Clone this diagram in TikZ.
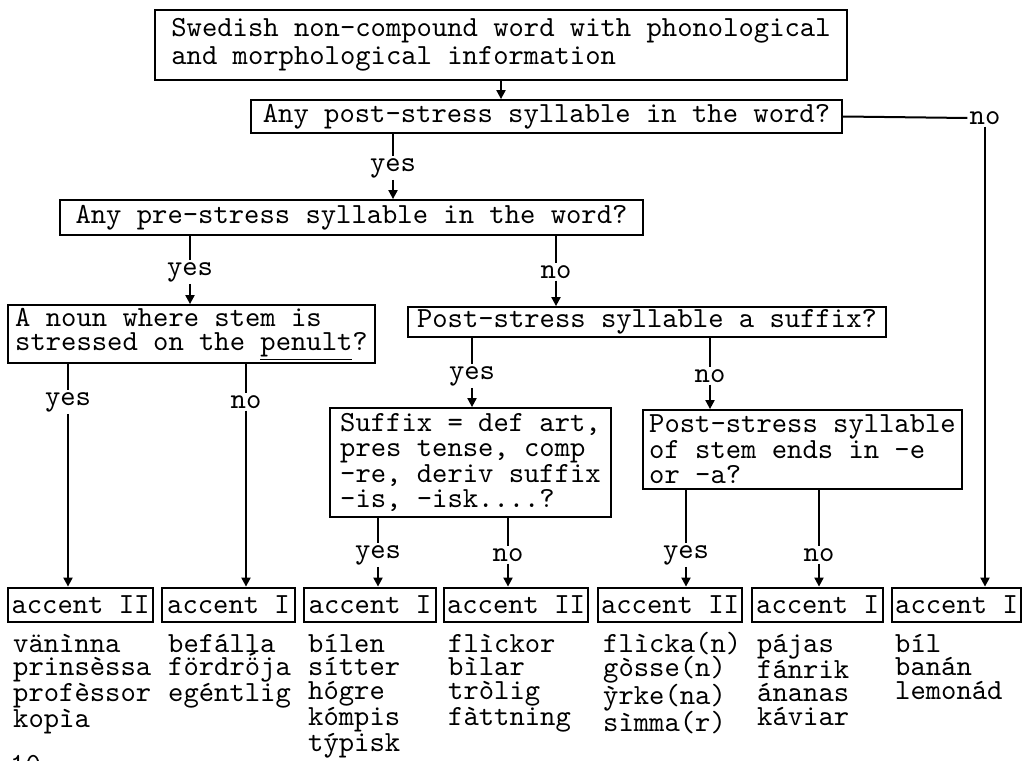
\documentclass[tikz,border=0pt]{standalone}
\usepackage{fontspec}
\setmainfont{lmmono10-regular}[Extension=.otf]
\usetikzlibrary{arrows.meta}
\newcommand{\ostack}{\rlap{ö}\raisebox{0.17em}{\char"00B4}}
\newcommand{\topstrut}{\rule{0pt}{20pt}}
\begin{document}
\begin{tikzpicture}[x=1pt,y=-1pt,
  font=\fontsize{29.2}{25.5}\selectfont,
  box/.style={draw, line width=1.8pt, align=left, inner sep=0pt},
  acc/.style={draw, line width=2.8pt, inner sep=0pt, minimum height=34pt},
  lab/.style={inner sep=2pt},
  ln/.style={line width=2pt},
  arr/.style={line width=2pt, -{Triangle[length=9pt,width=9pt]}},
  words/.style={anchor=north west, align=left, inner sep=0pt, font=\fontsize{29.2}{23.6}\selectfont}]
\useasboundingbox (0,0) rectangle (1027,760);
% decision boxes
\node[box, minimum width=692pt, minimum height=70pt, font=\fontsize{29.2}{28}\selectfont] (b1) at (501,45)
  {Swedish non-compound word with phonological\\and morphological information};
\node[box, minimum width=591pt, minimum height=33pt] (b2) at (546.5,116.5) {Any post-stress syllable in the word?};
\node[box, minimum width=583pt, minimum height=35pt] (b3) at (351.5,217.5) {Any pre-stress syllable in the word?};
\node[box, minimum width=367pt, minimum height=58pt, font=\fontsize{29.2}{24}\selectfont] (b4) at (191.5,334)
  {A noun where stem is\\stressed on the \underline{penult}?};
\node[box, minimum width=478pt, minimum height=30pt] (b5) at (647,322) {Post-stress syllable a suffix?};
\node[box, minimum width=281pt, minimum height=109pt] (b6) at (470.5,462.5)
  {Suffix = def art,\\pres tense, comp\\-re, deriv suffix\\-is, -isk....?};
\node[box, minimum width=319pt, minimum height=79pt] (b7) at (802.5,449.5)
  {Post-stress syllable\\of stem ends in -e\\or -a?};
% result boxes
\node[acc, minimum width=145pt] (a1) at (80.5,605) {accent II};
\node[acc, minimum width=133pt] (a2) at (228.5,605) {accent I};
\node[acc, minimum width=132pt] (a3) at (370,605) {accent I};
\node[acc, minimum width=144pt] (a4) at (516,605) {accent II};
\node[acc, minimum width=144pt] (a5) at (670,605) {accent II};
\node[acc, minimum width=131pt] (a6) at (817.5,605) {accent I};
\node[acc, minimum width=129pt] (a7) at (956.5,605) {accent I};
% labels
\node[lab] (y1) at (393,168) {yes};
\node[lab] (no0) at (985,118) {no};
\node[lab] (y2) at (190,272) {yes};
\node[lab] (n2) at (556,272) {no};
\node[lab] (y3) at (68,402) {yes};
\node[lab] (n3) at (246,402) {no};
\node[lab] (y4) at (472,376) {yes};
\node[lab] (n4) at (710,376) {no};
\node[lab] (y5) at (378,555) {yes};
\node[lab] (n5) at (508,555) {no};
\node[lab] (y6) at (686,555) {yes};
\node[lab] (n6) at (819,555) {no};
% connectors
\draw[arr] (b1.south) -- (b1.south |- b2.north);
\draw[ln] (y1 |- b2.south) -- (y1.north);
\draw[arr] (y1.south) -- (y1 |- b3.north);
\draw[ln] (b2.east) -- (no0.west);
\draw[arr] (no0.south) -- (no0 |- a7.north);
\draw[ln] (y2 |- b3.south) -- (y2.north);
\draw[arr] (y2.south) -- (y2 |- b4.north);
\draw[ln] (n2 |- b3.south) -- (n2.north);
\draw[arr] (n2.south) -- (n2 |- b5.north);
\draw[ln] (y3 |- b4.south) -- (y3.north);
\draw[arr] (y3.south) -- (y3 |- a1.north);
\draw[ln] (n3 |- b4.south) -- (n3.north);
\draw[arr] (n3.south) -- (n3 |- a2.north);
\draw[ln] (y4 |- b5.south) -- (y4.north);
\draw[arr] (y4.south) -- (y4 |- b6.north);
\draw[ln] (n4 |- b5.south) -- (n4.north);
\draw[arr] (n4.south) -- (n4 |- b7.north);
\draw[ln] (y5 |- b6.south) -- (y5.north);
\draw[arr] (y5.south) -- (y5 |- a3.north);
\draw[ln] (n5 |- b6.south) -- (n5.north);
\draw[arr] (n5.south) -- (n5 |- a4.north);
\draw[ln] (y6 |- b7.south) -- (y6.north);
\draw[arr] (y6.south) -- (y6 |- a5.north);
\draw[ln] (n6 |- b7.south) -- (n6.north);
\draw[arr] (n6.south) -- (n6 |- a6.north);
% example words
\node[words] (w1) at (13,632) {\topstrut vänìnna\\prinsèssa\\profèssor\\kopìa};
\node[words] (w2) at (168,632) {\topstrut befálla\\fördr\ostack ja\\egéntlig};
\node[words] (w3) at (308,632) {\topstrut bílen\\sítter\\hógre\\kómpis\\[1pt]týpisk};
\node[words] (w4) at (448,632) {\topstrut flìckor\\bìlar\\tròlig\\fàttning};
\node[words] (w5) at (603,632) {\topstrut flìcka(n)\\gòsse(n)\\ỳrke(na)\\sìmma(r)};
\node[words] (w6) at (757,632) {\topstrut pájas\\fánrik\\ánanas\\káviar};
\node[words] (w7) at (895,632) {\topstrut bíl\\banán\\lemonád};
% page number, cut off at the lower edge
\begin{scope}
\clip (0,0) rectangle (1027,760);
\node[anchor=base west, inner sep=0pt] (pg) at (10,773) {10};
\end{scope}
\end{tikzpicture}
\end{document}
